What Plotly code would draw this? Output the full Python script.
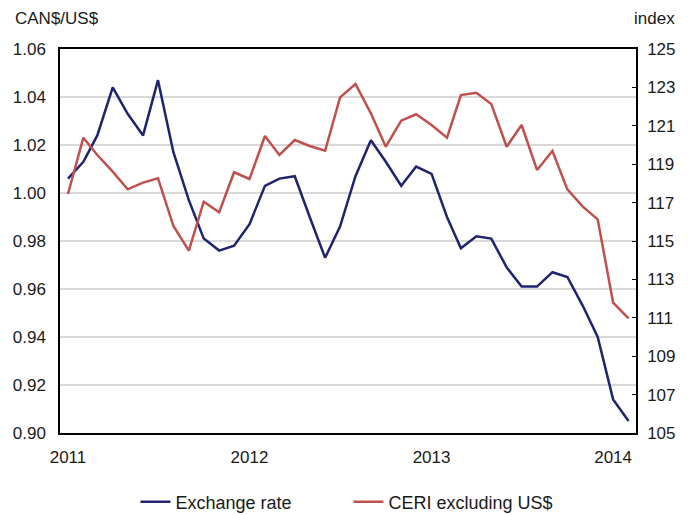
import pandas as pd
import plotly.graph_objects as go

# monthly data, Jan 2011 - Feb 2014
months = pd.date_range("2011-01-01", periods=38, freq="MS")

exchange_rate = [1.006, 1.013, 1.024, 1.044, 1.033, 1.024, 1.047, 1.017, 0.997, 0.981,
                 0.976, 0.978, 0.987, 1.003, 1.006, 1.007, 0.990, 0.973, 0.986, 1.007,
                 1.022, 1.013, 1.003, 1.011, 1.008, 0.990, 0.977, 0.982, 0.981, 0.969,
                 0.961, 0.961, 0.967, 0.965, 0.953, 0.940, 0.914, 0.905]

ceri_ex_us = [117.45, 120.38, 119.48, 118.61, 117.69, 118.04, 118.27, 115.78, 114.50, 117.05,
              116.50, 118.58, 118.23, 120.47, 119.48, 120.26, 119.95, 119.70, 122.48, 123.18,
              121.65, 119.91, 121.27, 121.60, 121.04, 120.38, 122.60, 122.72, 122.14, 119.91,
              121.04, 118.70, 119.69, 117.69, 116.79, 116.13, 111.79, 110.97]

year_ticks = ["2011-01-01", "2012-01-01", "2013-01-01", "2014-01-01"]
year_labels = ["2011", "2012", "2013", "2014"]

navy = "#1f2370"
red = "#c0504d"
font = "Liberation Sans Narrow, Arial Narrow, Liberation Sans, Arial, sans-serif"

fig = go.Figure()
fig.add_trace(go.Scatter(x=months, y=exchange_rate, name="Exchange rate", mode="lines",
                         line=dict(color=navy, width=2.5)))
fig.add_trace(go.Scatter(x=months, y=ceri_ex_us, name="CERI excluding US$", mode="lines",
                         line=dict(color=red, width=2.5), yaxis="y2"))

# page body adds 8px offset, so margins are shifted to compensate
fig.update_layout(
    width=694, height=515,
    margin=dict(l=52, r=66, t=41, b=90, autoexpand=False),
    plot_bgcolor="white", paper_bgcolor="white",
    font=dict(family=font, size=17, color="#1a1a1a"),
    showlegend=True,
    legend=dict(orientation="h", x=0.131, xanchor="left", y=-0.18, yanchor="middle",
                font=dict(size=18), itemwidth=30, tracegroupgap=0,
                entrywidth=168, entrywidthmode="pixels"),
    xaxis=dict(range=["2010-12-16", "2014-02-16"], tickvals=year_ticks, ticktext=year_labels,
               showgrid=False, showline=True, linecolor="black", linewidth=1.5, mirror=True,
               ticks="", ticklabelstandoff=8, automargin=False),
    yaxis=dict(range=[0.90, 1.06], dtick=0.02, tickformat=".2f", showgrid=True,
               gridcolor="#d9d9d9", gridwidth=1.5, showline=True, linecolor="black",
               linewidth=1.5, ticks="", zeroline=False, ticklabelstandoff=9,
               automargin=False),
    yaxis2=dict(range=[105, 125], tick0=105, dtick=2, overlaying="y", side="right",
                showgrid=False, showline=True, linecolor="black", linewidth=1.5,
                ticks="inside", ticklen=4, tickcolor="black", zeroline=False,
                ticklabelstandoff=6, automargin=False),
)

fig.add_annotation(text="CAN$/US$", x=0, y=1, xref="paper", yref="paper",
                   xanchor="left", yanchor="bottom", xshift=-47, yshift=19,
                   showarrow=False, font=dict(size=17))
fig.add_annotation(text="index", x=1, y=1, xref="paper", yref="paper",
                   xanchor="right", yanchor="bottom", xshift=41, yshift=19,
                   showarrow=False, font=dict(size=17))

fig.write_html("out.html")
